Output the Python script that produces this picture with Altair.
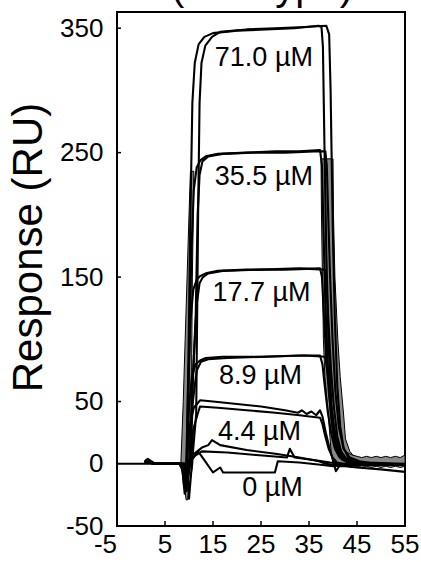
import altair as alt
import pandas as pd

# ---- sensorgram traces: time (s) and response (RU), two injections per concentration ----
t_710a = [-5, 3, 8.5, 9.1, 9.5, 9.9, 10.3, 10.7, 11.2, 12.0, 13.2, 15.0, 20, 26, 32, 37.0, 37.6, 37.9, 38.2, 38.6, 39.1, 39.7, 40.4, 41.3, 42.5, 44.5, 48, 55]
r_710a = [0, 0, 0, -24, -8, 90, 200, 290, 322, 337, 343, 346, 348, 349, 350, 352, 351, 335, 260, 170, 95, 45, 18, 7, 3, 1, 0, -1]
t_710b = [0.8, 1.4, 3, 8, 9.6, 10.0, 10.5, 11.5, 11.9, 12.2, 12.6, 13.4, 14.8, 16.5, 22, 28, 34, 38.6, 39.2, 39.5, 39.7, 40.0, 40.4, 40.9, 41.5, 42.2, 43.2, 44.5, 47, 55]
r_710b = [2, 4, 0, 0, -2, -28, -5, 40, 200, 290, 322, 336, 343, 347, 349, 350, 351, 352, 345, 300, 250, 180, 115, 62, 30, 13, 5, 2, 1, 0]

t_355a = [0.8, 1.5, 3, 8.6, 9.2, 9.6, 10.0, 10.5, 11.0, 11.6, 12.4, 13.5, 16, 22, 28, 33, 37.3, 37.7, 38.0, 38.4, 38.9, 39.5, 40.2, 41.0, 42.0, 43.5, 46, 55]
r_355a = [3, 1, 0, 0, -20, -6, 80, 170, 220, 238, 244, 247, 249, 250, 251, 251, 252, 240, 190, 130, 80, 42, 20, 8, 3, 1, 0, -1]
t_355b = [0.8, 1.5, 3, 9.0, 9.5, 10.0, 10.4, 11.4, 11.8, 12.2, 12.8, 14, 17, 23, 30, 36, 38.4, 38.7, 39.0, 39.4, 39.9, 40.5, 41.2, 42.2, 43.5, 45.5, 49, 55]
r_355b = [2, 2, 0, 0, -22, -4, 30, 120, 200, 232, 243, 247, 249, 250, 250, 251, 251, 240, 200, 150, 100, 58, 30, 12, 5, 2, 0, -1]

t_177a = [0.8, 1.5, 3, 8.5, 9.0, 9.4, 9.8, 10.3, 10.9, 11.6, 12.4, 13.5, 16, 22, 30, 37.3, 37.7, 38.1, 38.6, 39.2, 39.9, 40.7, 41.7, 43, 45, 48, 55]
r_177a = [2, 1, 0, 0, -18, -4, 60, 115, 140, 148, 151, 153, 155, 156, 156, 157, 150, 120, 85, 55, 30, 14, 6, 2, 1, 0, -1]
t_177b = [0.8, 1.5, 3, 9.1, 9.6, 10.1, 10.8, 11.6, 12.2, 12.9, 14, 17, 25, 33, 38.3, 38.7, 39.1, 39.6, 40.2, 40.9, 41.7, 42.8, 44.5, 47, 55]
r_177b = [2, 1, 0, 0, -15, -2, 70, 128, 145, 150, 153, 155, 156, 157, 156, 140, 110, 75, 45, 22, 10, 4, 1, 0, -1]

t_89a = [0.8, 1.5, 3, 8.6, 9.1, 9.5, 10.0, 10.6, 11.4, 12.3, 13.5, 17, 25, 33, 37.3, 37.8, 38.3, 38.9, 39.6, 40.4, 41.4, 42.8, 45, 55]
r_89a = [2, 1, 0, 0, -14, -2, 45, 70, 80, 83, 85, 86, 86, 87, 87, 80, 62, 42, 25, 12, 5, 2, 0, -1]
t_89b = [0.8, 1.5, 3, 9.2, 9.7, 10.2, 10.8, 11.6, 12.5, 14, 18, 26, 34, 38.4, 38.9, 39.5, 40.2, 41.0, 42.0, 43.5, 46, 55]
r_89b = [2, 1, 0, 0, -12, 0, 50, 75, 82, 84, 85, 86, 87, 86, 72, 50, 30, 15, 6, 2, 0, -1]

t_44a = [0.8, 1.5, 3, 8.6, 9.1, 9.5, 10.1, 11.0, 12.3, 15, 20, 25, 30, 32.7, 33.5, 34.5, 35.5, 36.5, 37.3, 37.8, 38.5, 39.3, 40.0, 40.6, 41.3, 42.5, 45, 50, 55]
r_44a = [2, 1, 0, 0, -10, 0, 30, 45, 51, 50, 48, 46, 43, 41, 43, 40, 42, 39, 43, 38, 25, 12, 3, -6, -2, -2, -3, -4.5, -6.5]
t_44b = [0.8, 1.5, 3, 9.2, 9.7, 10.2, 10.9, 11.8, 12.3, 16, 22, 28, 33, 37.3, 37.8, 38.4, 39.1, 39.9, 40.8, 42, 44, 55]
r_44b = [2, 1, 0, 0, -8, 0, 28, 40, 46, 45, 43, 41, 39, 37, 32, 22, 12, 5, 1, 0, 0, -1]

t_0a = [0.8, 1.5, 3, 8, 9.0, 9.5, 10.4, 12.7, 14.0, 14.8, 16.5, 22, 28, 33, 37.1, 38.5, 40.4, 43, 48, 55]
r_0a = [2, 1, 0, 0, -8, -2, 6, 13, 15, 19, 15, 11, 8, 5, 2, 0, -1, 0, -1, -1]
t_0b = [0.8, 1.5, 3, 8, 9.2, 9.7, 10.6, 12.7, 18, 24, 30.4, 31.0, 32.0, 36, 39.4, 42, 48, 55]
r_0b = [2, 1, 0, 0, -6, 0, 5, 10, 9, 7, 5, 12, 5, 3, 1, 0, 0, -1]
t_0c = [0.8, 1.5, 3, 8, 9.4, 10.0, 11.9, 13.2, 15.0, 16.5, 17.1, 27.9, 28.5, 33, 37.9, 40, 44, 55]
r_0c = [2, 1, 0, 0, -5, 0, 10, 3, -7, -3, -7, -7, 2, 1, -1, -2, -1, -1]

# ---- dense overlapping stretches of the raw curves (injection start, injection end, wash) ----
rise_r = [-29, -20, -10, 0, 20, 50, 100, 150, 200, 235]
rise_left = [9.4, 9.1, 8.8, 8.3, 8.5, 8.8, 9.2, 9.6, 10.0, 10.3]
rise_right = [9.7, 10.0, 10.4, 10.8, 10.6, 10.5, 10.6, 10.7, 10.9, 11.0]

fall_r = [0, 10, 20, 40, 70, 100, 150, 200, 245]
fall_left = [40.0, 39.6, 39.4, 39.0, 38.3, 38.0, 37.8, 37.6, 37.5]
fall_right = [45.6, 43.5, 42.6, 42.2, 41.5, 41.0, 40.4, 40.1, 40.0]

wash_t = [43, 44, 45, 46, 47, 48, 49, 50, 51, 52, 53, 54, 55]
wash_top = [9, 7, 6, 5, 6, 5, 6, 5, 6, 5, 6, 5, 7]
wash_bottom = [-2, -3, -2, -3, -2, -3, -2, -3, -2, -3, -2, -3, -2]

# ---- concentration labels and their anchor points (time, response) ----
conc_labels = ["71.0 µM", "35.5 µM", "17.7 µM", "8.9 µM", "4.4 µM", "0 µM"]
label_t = [25.6, 25.6, 25.1, 24.9, 24.7, 27.4]
label_r = [326, 230.5, 137, 70.7, 25.7, -19.3]

# ---- axis ticks ----
x_tick_values = [-5, 5, 15, 25, 35, 45, 55]
x_tick_text = ["-5", "5", "15", "25", "35", "45", "55"]
y_tick_values = [-50, 0, 50, 150, 250, 350]
x_inner_ticks = [5, 15, 25, 35, 45]
y_inner_ticks = [50, 150, 250, 350]
top_title = "(wild type)"

# ---- build tables ----
trace_sets = {
    "71.0a": (t_710a, r_710a), "71.0b": (t_710b, r_710b),
    "35.5a": (t_355a, r_355a), "35.5b": (t_355b, r_355b),
    "17.7a": (t_177a, r_177a), "17.7b": (t_177b, r_177b),
    "8.9a": (t_89a, r_89a), "8.9b": (t_89b, r_89b),
    "4.4a": (t_44a, r_44a), "4.4b": (t_44b, r_44b),
    "0a": (t_0a, r_0a), "0b": (t_0b, r_0b), "0c": (t_0c, r_0c),
}
rows = []
for name, (ts, rs) in trace_sets.items():
    for i, (tv, rv) in enumerate(zip(ts, rs)):
        rows.append({"trace": name, "i": i, "t": tv, "r": rv})
traces = pd.DataFrame(rows)

rise_df = pd.DataFrame({"r": rise_r, "xl": rise_left, "xr": rise_right})
fall_df = pd.DataFrame({"r": fall_r, "xl": fall_left, "xr": fall_right})
wash_df = pd.DataFrame({"t": wash_t, "top": wash_top, "bottom": wash_bottom})
labels_df = pd.DataFrame({"label": conc_labels, "t": label_t, "r": label_r})
xlab_df = pd.DataFrame({"tick": x_tick_values, "txt": x_tick_text})

FONT = "Liberation Sans"
W, H = 288, 514
GRAY = "#8a8a8a"
x_scale = alt.Scale(domain=[-5, 55], nice=False, zero=False)
y_scale = alt.Scale(domain=[-50, 363], nice=False, zero=False)

# one shared axis definition per channel, used identically by every layer
x_axis = alt.Axis(values=x_tick_values, title=None, grid=False, ticks=False, domain=False, labels=False)
y_axis = alt.Axis(
    values=y_tick_values, title="Response (RU)", grid=False, ticks=False, domain=False,
    labelFontSize=26, labelFont=FONT, labelColor="black", labelPadding=14,
    labelOverlap=False, labelFlush=False, labelExpr="'' + datum.value",
    titleFont=FONT, titleFontSize=42, titleFontWeight="normal", titleColor="black",
    titleAngle=270, titleX=-76, titleY=235, titleBaseline="alphabetic", titleAlign="center",
)


def X(field):
    return alt.X(field, type="quantitative", scale=x_scale, axis=x_axis)


def Y(field):
    return alt.Y(field, type="quantitative", scale=y_scale, axis=y_axis)


band_style = dict(color=GRAY, stroke="black", strokeWidth=1)
rise = alt.Chart(rise_df).mark_area(orient="horizontal", **band_style).encode(y=Y("r"), x=X("xl"), x2="xr:Q")
fall = alt.Chart(fall_df).mark_area(orient="horizontal", **band_style).encode(y=Y("r"), x=X("xl"), x2="xr:Q")
wash = alt.Chart(wash_df).mark_area(**band_style).encode(x=X("t"), y=Y("top"), y2="bottom:Q")

lines = alt.Chart(traces).mark_line(color="black", strokeWidth=2.1, strokeJoin="round").encode(
    x=X("t"), y=Y("r"), detail="trace:N", order="i:Q"
)

yt = alt.Chart(pd.DataFrame({"v": y_inner_ticks})).mark_rule(color="black", strokeWidth=1.5).encode(
    y=Y("v"), x=alt.value(0), x2=alt.value(4)
)
xt = alt.Chart(pd.DataFrame({"v": x_inner_ticks})).mark_rule(color="black", strokeWidth=1.5).encode(
    x=X("v"), y=alt.value(H), y2=alt.value(H - 5)
)

# x tick labels: the first one sits left of its tick, the rest are centred
xlabels = alt.Chart(xlab_df).mark_text(
    font=FONT, fontSize=26, color="black", baseline="top",
    align={"expr": "datum.tick < 0 ? 'right' : 'center'"},
).encode(x=X("tick"), y=alt.value(H + 6), text="txt:N")

labels = alt.Chart(labels_df).mark_text(font=FONT, fontSize=27, color="black", align="center", baseline="middle").encode(
    x=X("t"), y=Y("r"), text="label:N"
)

title_text = alt.Chart(pd.DataFrame({"s": [top_title]})).mark_text(
    font=FONT, fontSize=40, color="black", align="center", baseline="alphabetic"
).encode(text="s:N", x=alt.value(145), y=alt.value(-12))

chart = alt.layer(rise, fall, wash, lines, yt, xt, xlabels, labels, title_text).properties(
    width=W, height=H,
    autosize=alt.AutoSizeParams(type="none"),
    padding={"left": 117, "top": 12, "right": 16, "bottom": 36},
    background="white",
).configure_view(stroke="black", strokeWidth=2)

chart.save("out.html", embed_options={"renderer": "svg", "actions": False})
